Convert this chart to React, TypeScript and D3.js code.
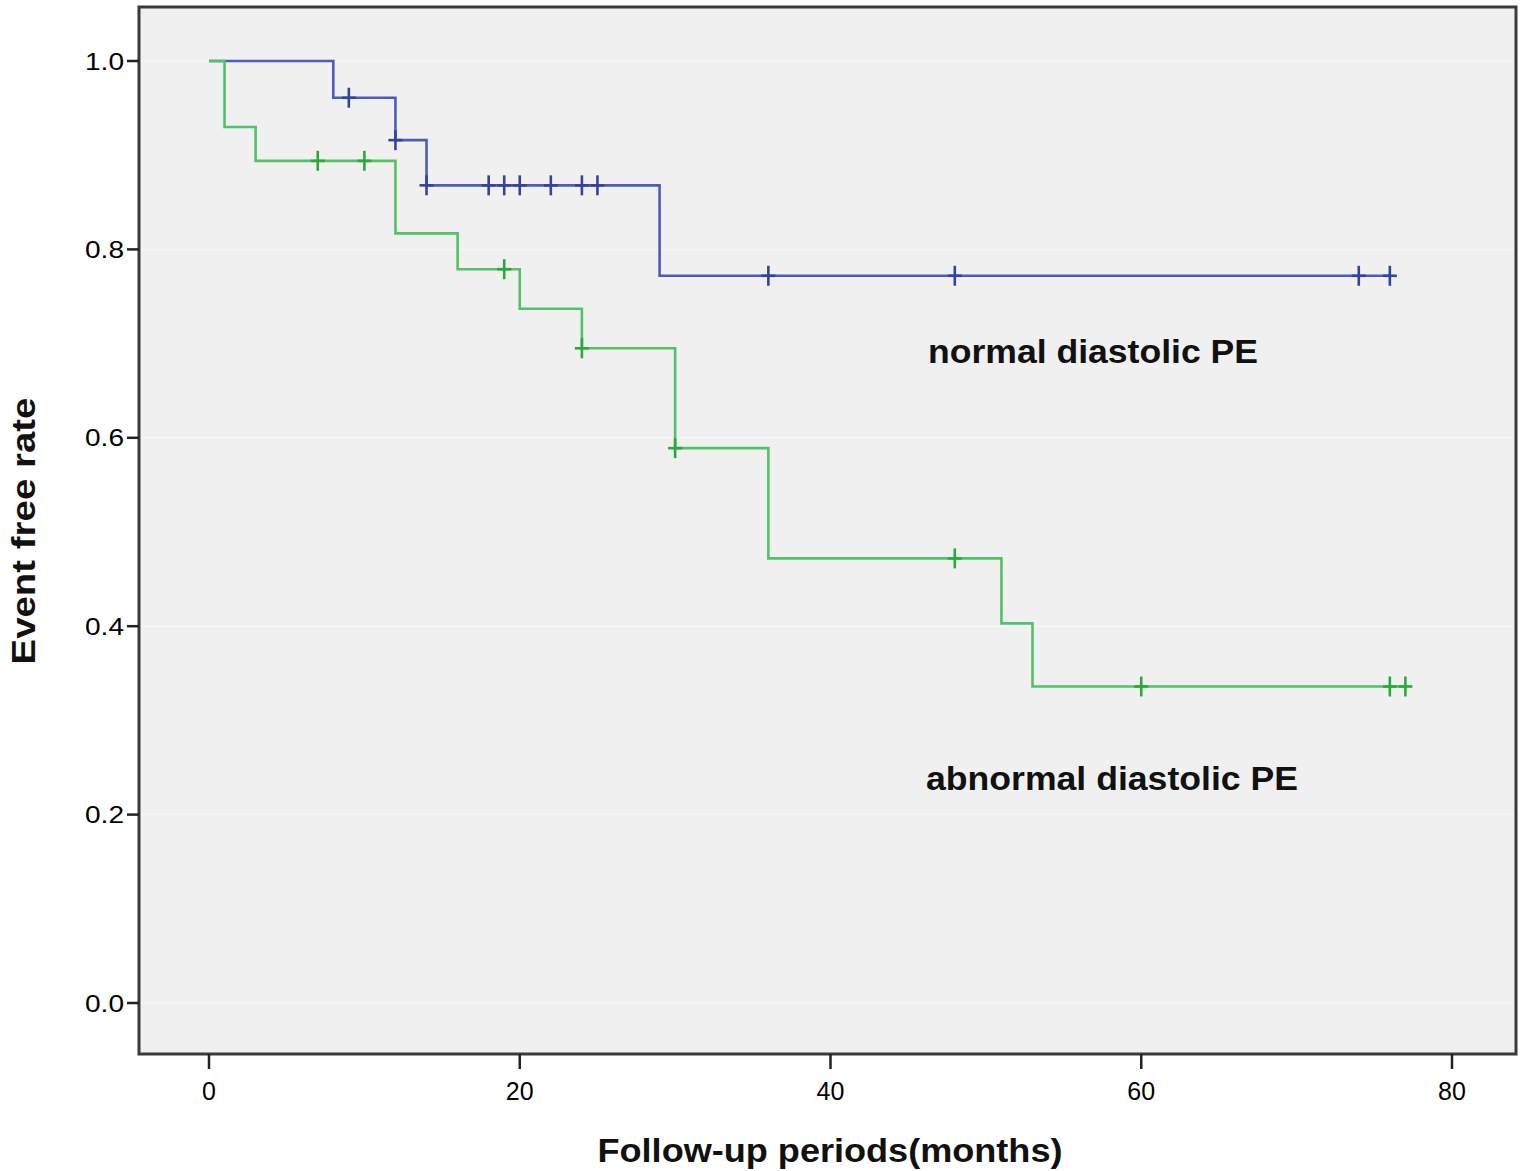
import React from "react";
import * as d3 from "d3";

// Kaplan-Meier steps: [time (months), survival after event]
const normalSteps: [number, number][] = [
  [0, 1.0],
  [8, 0.961],
  [12, 0.916],
  [14, 0.868],
  [29, 0.772],
];
const normalEnd = 76;
const normalCensored = [9, 12, 14, 18, 19, 20, 22, 24, 25, 36, 48, 74, 76];

const abnormalSteps: [number, number][] = [
  [0, 1.0],
  [1, 0.93],
  [3, 0.894],
  [12, 0.817],
  [16, 0.779],
  [20, 0.737],
  [24, 0.695],
  [30, 0.589],
  [36, 0.472],
  [51, 0.403],
  [53, 0.336],
];
const abnormalEnd = 77;
const abnormalCensored = [7, 10, 19, 24, 30, 48, 60, 76, 77];

const xTicks = [0, 20, 40, 60, 80];
const yTicks = [0.0, 0.2, 0.4, 0.6, 0.8, 1.0];

const W = 1524;
const H = 1171;
const frame = { left: 139, right: 1516, top: 7, bottom: 1054 };

const x = d3.scaleLinear().domain([0, 80]).range([209, 1452]);
const y = d3.scaleLinear().domain([0, 1]).range([1003, 61]);

function survAt(steps: [number, number][], t: number) {
  let s = steps[0][1];
  for (const [tt, v] of steps) if (tt <= t) s = v;
  return s;
}

function stepPath(steps: [number, number][], end: number) {
  const pts: [number, number][] = steps.map((d) => [d[0], d[1]]);
  pts.push([end, steps[steps.length - 1][1]]);
  const line = d3
    .line<[number, number]>()
    .x((d) => x(d[0]))
    .y((d) => y(d[1]))
    .curve(d3.curveStepAfter);
  return line(pts) || "";
}

const Curve = ({
  steps,
  end,
  censored,
  color,
  mark,
}: {
  steps: [number, number][];
  end: number;
  censored: number[];
  color: string;
  mark: string;
}) => (
  <g>
    <path d={stepPath(steps, end)} fill="none" stroke={color} strokeWidth={2.6} />
    {censored.map((t, i) => {
      const cx = x(t);
      const cy = y(survAt(steps, t));
      return (
        <g key={i} stroke={mark} strokeWidth={2.6}>
          <line x1={cx} x2={cx} y1={cy - 10} y2={cy + 10} />
          <line x1={cx - 7} x2={cx + 7} y1={cy} y2={cy} />
        </g>
      );
    })}
  </g>
);

export default function App() {
  const font = "'Liberation Sans', Arial, sans-serif";
  return (
    <svg
      width={W}
      height={H}
      style={{ position: "absolute", left: 0, top: 0, background: "#fff" }}
    >
      <rect
        x={frame.left}
        y={frame.top}
        width={frame.right - frame.left}
        height={frame.bottom - frame.top}
        fill="#f0f0f0"
      />
      {yTicks.map((t) => (
        <line
          key={"g" + t}
          x1={frame.left}
          x2={frame.right}
          y1={y(t)}
          y2={y(t)}
          stroke="#f6f6f6"
          strokeWidth={1.5}
        />
      ))}
      <rect
        x={frame.left}
        y={frame.top}
        width={frame.right - frame.left}
        height={frame.bottom - frame.top}
        fill="none"
        stroke="#3a3a3a"
        strokeWidth={3}
      />
      {/* y axis ticks */}
      {yTicks.map((t) => (
        <g key={"y" + t}>
          <line x1={127} x2={frame.left} y1={y(t)} y2={y(t)} stroke="#222" strokeWidth={2.5} />
          <text
            x={124}
            y={y(t)}
            dy="0.36em"
            textAnchor="end"
            fontFamily={font}
            fontSize={24}
            textLength={39}
            lengthAdjust="spacingAndGlyphs"
            fill="#000"
          >
            {d3.format(".1f")(t)}
          </text>
        </g>
      ))}
      {/* x axis ticks */}
      {xTicks.map((t) => (
        <g key={"x" + t}>
          <line x1={x(t)} x2={x(t)} y1={frame.bottom} y2={frame.bottom + 15} stroke="#222" strokeWidth={2.5} />
          <text
            x={x(t)}
            y={1100}
            textAnchor="middle"
            fontFamily={font}
            fontSize={25}
            fill="#000"
          >
            {t}
          </text>
        </g>
      ))}
      <text
        x={830}
        y={1162}
        textAnchor="middle"
        fontFamily={font}
        fontWeight="bold"
        fontSize={33}
        textLength={465}
        lengthAdjust="spacingAndGlyphs"
        fill="#111"
      >
        Follow-up periods(months)
      </text>
      <text
        transform="translate(35,531) rotate(-90)"
        textAnchor="middle"
        fontFamily={font}
        fontWeight="bold"
        fontSize={34}
        textLength={267}
        lengthAdjust="spacingAndGlyphs"
        fill="#111"
      >
        Event free rate
      </text>

      <Curve
        steps={normalSteps}
        end={normalEnd}
        censored={normalCensored}
        color="#4a5cbc"
        mark="#33449f"
      />
      <Curve
        steps={abnormalSteps}
        end={abnormalEnd}
        censored={abnormalCensored}
        color="#52c266"
        mark="#2aa83c"
      />

      <text
        x={928}
        y={363}
        fontFamily={font}
        fontWeight="bold"
        fontSize={34}
        textLength={330}
        lengthAdjust="spacingAndGlyphs"
        fill="#111"
      >
        normal diastolic PE
      </text>
      <text
        x={926}
        y={790}
        fontFamily={font}
        fontWeight="bold"
        fontSize={34}
        textLength={372}
        lengthAdjust="spacingAndGlyphs"
        fill="#111"
      >
        abnormal diastolic PE
      </text>
    </svg>
  );
}
